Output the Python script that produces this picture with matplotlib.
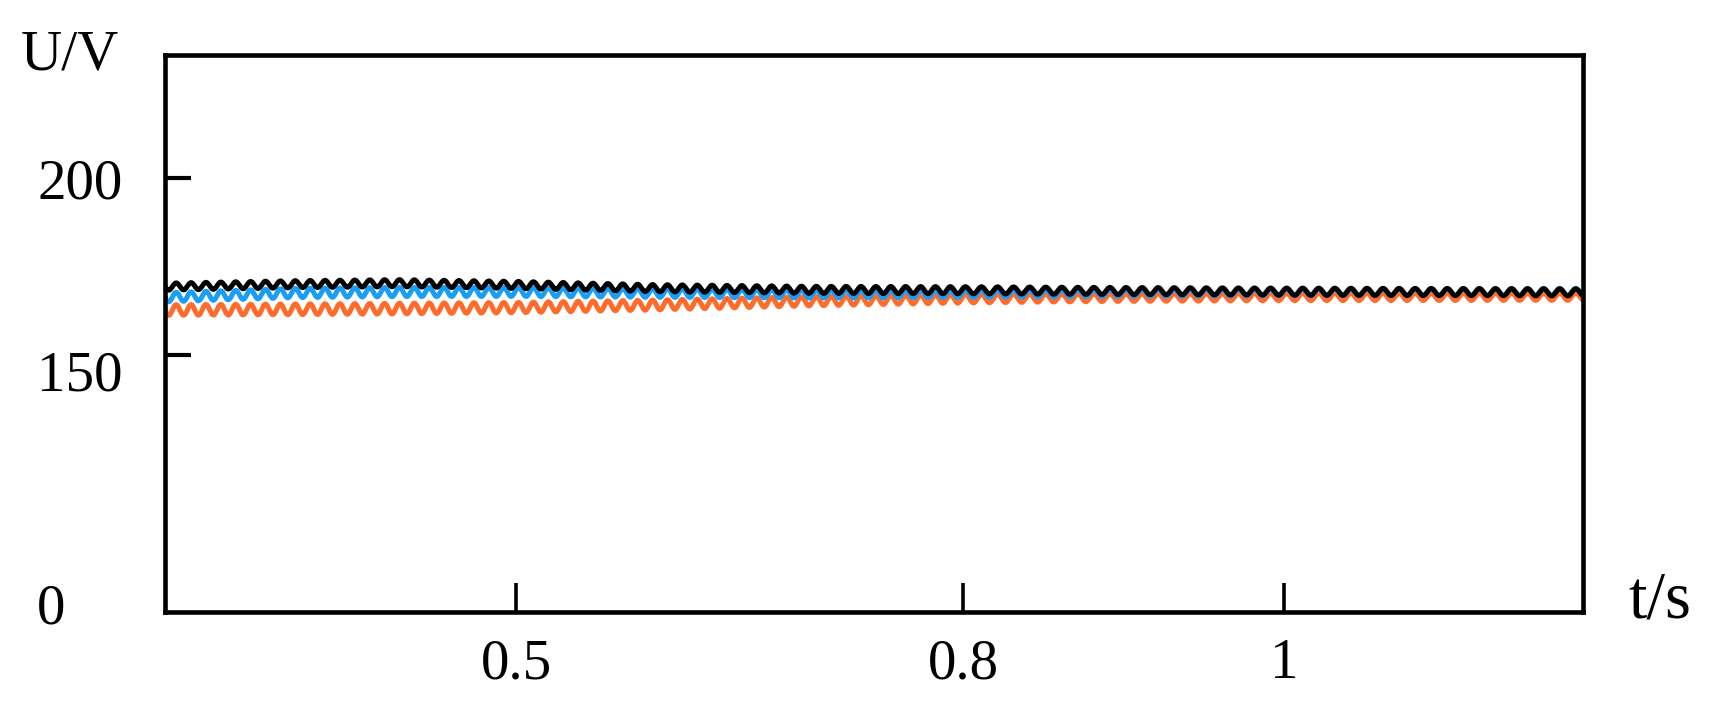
import numpy as np
import matplotlib
matplotlib.use("Agg")
import matplotlib.pyplot as plt
from matplotlib import transforms

plt.rcParams['font.family'] = ['Liberation Serif', 'DejaVu Serif']

# mean voltage levels read at a few times (s)
t_knots = [0.264, 0.35, 0.42, 0.5, 0.59, 0.7, 0.8, 0.885, 1.0, 1.186]
black_mean = [169.3, 170.0, 170.3, 169.8, 168.9, 168.4, 168.3, 168.1, 167.9, 167.7]
blue_mean = [166.3, 167.5, 167.8, 167.8, 167.5, 167.2, 167.3, 167.5, 167.7, 167.8]
orange_mean = [162.7, 162.9, 163.1, 163.4, 164.1, 165.2, 165.9, 166.2, 166.4, 166.5]
# ripple half-amplitudes (V) at the same times, ripple at 100 Hz
black_amp = [1.0, 1.0, 1.0, 1.0, 1.0, 1.0, 1.0, 1.0, 1.0, 1.0]
blue_amp = [1.3, 1.3, 1.3, 1.25, 1.2, 1.1, 1.05, 1.0, 1.0, 1.0]
orange_amp = [1.5, 1.5, 1.5, 1.45, 1.4, 1.3, 1.2, 1.1, 1.05, 1.05]
ripple_hz = 100

xticks = [0.5, 0.8, 1.0]
xtick_labels = ['0.5', '0.8', '1']
yticks = [0, 150, 200]
ytick_labels = ['0', '150', '200']

# hand drawn axes: piecewise linear scales
xk = np.array([-10.0, 0.5, 0.8, 1.0, 10.0])
xp = np.array([470 - 10.5 * 406 / 0.3, 470, 876, 1168, 1168 + 9 * 292 / 0.2])
yk = np.array([-1000.0, 0, 150, 200, 1000])
yp = np.array([-1000 * 234 / 150, 0, 234, 395, 395 + 800 * 161 / 50])


def fx(v):
    return np.interp(v, xk, xp)


def ix(p):
    return np.interp(p, xp, xk)


def fy(v):
    return np.interp(v, yk, yp)


def iy(p):
    return np.interp(p, yp, yk)


t = np.linspace(t_knots[0], t_knots[-1], 3000)
wave = np.sin(2 * np.pi * ripple_hz * (t - t_knots[0]) + np.pi)

fig = plt.figure(figsize=(17.24, 7.05), dpi=100)
ax = fig.add_axes([165 / 1724, 93 / 705, 1418 / 1724, 557 / 705])
ax.set_xscale('function', functions=(fx, ix))
ax.set_yscale('function', functions=(fy, iy))

for mean, amp, col in [(orange_mean, orange_amp, '#ff6b2b'),
                       (blue_mean, blue_amp, '#1a9ef5'),
                       (black_mean, black_amp, '#000000')]:
    y = np.interp(t, t_knots, mean) + np.interp(t, t_knots, amp) * wave
    ax.plot(t, y, color=col, lw=3.6, solid_joinstyle='round')

ax.set_xlim(t_knots[0], t_knots[-1])
ax.set_ylim(0, 234.8)

for s in ax.spines.values():
    s.set_linewidth(3.3)

ax.set_xticks(xticks, xtick_labels)
ax.set_yticks(yticks, ytick_labels)
ax.tick_params(axis='x', direction='in', length=21, width=2.6, pad=19, labelsize=41)
ax.tick_params(axis='y', direction='in', length=19, width=3.0, pad=92, labelsize=41)
ax.minorticks_off()
ax.yaxis.get_major_ticks()[0].tick1line.set_visible(False)
offsets = [6, -11, 0]
for lab, off in zip(ax.get_yticklabels(), offsets):
    lab.set_horizontalalignment('left')
    lab.set_transform(lab.get_transform() + transforms.ScaledTranslation(0, off / 72, fig.dpi_scale_trans))

ax.text(1.032, 0.02, 't/s', transform=ax.transAxes, ha='left', va='center', fontsize=48)
ax.text(-0.067, 1.0, 'U/V', transform=ax.transAxes, ha='center', va='center', fontsize=41)

fig.savefig('out.png', dpi=100)
